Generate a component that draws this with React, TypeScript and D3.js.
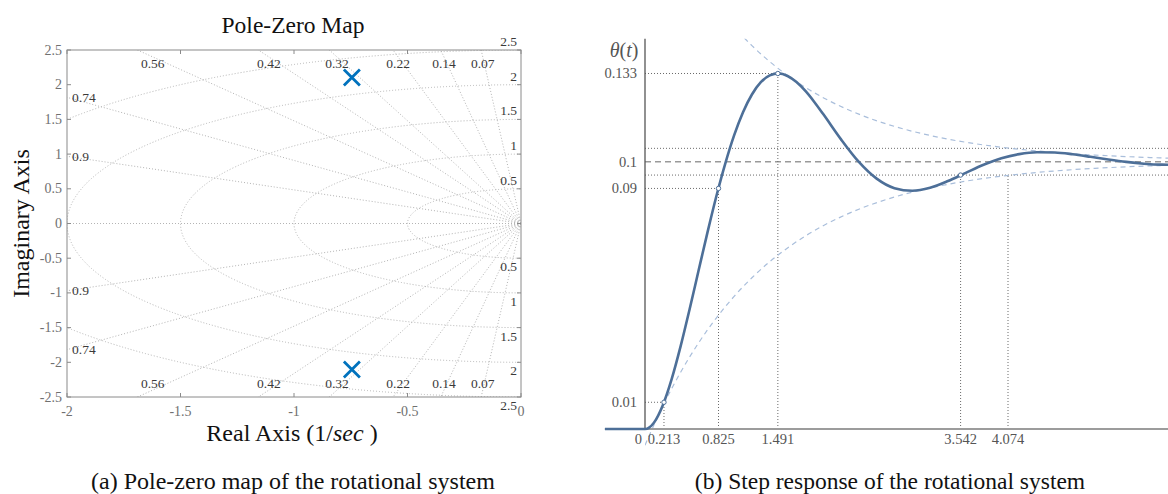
import React from 'react';
import * as d3 from 'd3';

// ---- pole-zero map ----
const realTicks = [-2, -1.5, -1, -0.5, 0];
const imagTicks = [-2.5, -2, -1.5, -1, -0.5, 0, 0.5, 1, 1.5, 2, 2.5];
const dampingRatios = [0.07, 0.14, 0.22, 0.32, 0.42, 0.56, 0.74, 0.9];
const naturalFreqs = [0.5, 1, 1.5, 2, 2.5];
const poleRe = [-0.745, -0.745];
const poleIm = [2.105, -2.105];

// ---- step response ----
const stepTime = [
  -0.45, 0, 0.1, 0.2, 0.3, 0.4, 0.5, 0.6, 0.7, 0.8, 0.9, 1.0, 1.1, 1.2, 1.3, 1.4, 1.5, 1.6, 1.7, 1.8, 1.9, 2.0,
  2.2, 2.4, 2.6, 2.8, 3.0, 3.2, 3.4, 3.6, 3.8, 4.0, 4.2, 4.4, 4.6, 4.8, 5.0, 5.2, 5.4, 5.6, 5.8, 6.0,
];
const stepTheta = [
  0, 0, 0.00237, 0.00892, 0.01876, 0.031, 0.04473, 0.05909, 0.07338, 0.08697, 0.09922, 0.10984, 0.11851,
  0.12514, 0.12973, 0.13228, 0.13304, 0.13207, 0.12979, 0.12646, 0.12236, 0.11781,
  0.10836, 0.09992, 0.09366, 0.0901, 0.08914, 0.09026, 0.09276, 0.09584, 0.09883, 0.10126, 0.10284,
  0.10354, 0.10345, 0.1028, 0.10184, 0.10082, 0.09992, 0.09926, 0.0989, 0.09882,
];
const envTime = [0, 0.2, 0.4, 0.6, 0.8, 1.0, 1.2, 1.4, 1.6, 1.8, 2.0, 2.4, 2.8, 3.2, 3.6, 4.0, 4.4, 4.8, 5.2, 5.6, 6.0];
const envUpper = [
  0.20605, 0.19139, 0.17875, 0.16786, 0.15848, 0.1504, 0.14343, 0.13742, 0.13225, 0.12779, 0.12395,
  0.11778, 0.11321, 0.10981, 0.10728, 0.10541, 0.10402, 0.10298, 0.10222, 0.10164, 0.10122,
];
const envLower = [
  -0.00605, 0.00861, 0.02125, 0.03214, 0.04152, 0.0496, 0.05657, 0.06258, 0.06775, 0.07221, 0.07605,
  0.08222, 0.08679, 0.09019, 0.09272, 0.09459, 0.09598, 0.09702, 0.09778, 0.09836, 0.09878,
];
const markTime = [0.213, 0.825, 1.491, 3.542];
const markTheta = [0.01, 0.09, 0.133, 0.095];
const settleTime = 4.074;
const finalValue = 0.1;
const bandValues = [0.095, 0.105];
const thetaTicks = [0.01, 0.09, 0.1, 0.133];
const timeTicks = [0, 0.213, 0.825, 1.491, 3.542, 4.074];

const serif = "'Liberation Serif', 'Times New Roman', serif";
const gridColor = '#b4b4b4';
const lineBlue = '#4d6f98';

function PoleZero() {
  const px = d3.scaleLinear().domain([-2, 0]).range([67, 521]);
  const py = d3.scaleLinear().domain([-2.5, 2.5]).range([397, 50]);
  const [x0, x1] = px.range();
  const [y0, y1] = [py(2.5), py(-2.5)];
  const tick = 4;

  return (
    <g fontFamily={serif}>
      <defs>
        <clipPath id="pzclip">
          <rect x={x0} y={y0} width={x1 - x0} height={y1 - y0} />
        </clipPath>
      </defs>
      <g clipPath="url(#pzclip)" fill="none" stroke={gridColor} strokeWidth={1} strokeDasharray="1,2">
        {naturalFreqs.map((r) => (
          <ellipse key={r} cx={px(0)} cy={py(0)} rx={px(0) - px(-r)} ry={py(0) - py(r)} />
        ))}
        {dampingRatios.map((z) =>
          [1, -1].map((s) => (
            <line
              key={z + '_' + s}
              x1={px(0)}
              y1={py(0)}
              x2={px(-z * 6)}
              y2={py(s * Math.sqrt(1 - z * z) * 6)}
            />
          ))
        )}
        <line x1={x0} x2={x1} y1={py(0)} y2={py(0)} />
      </g>

      {/* damping labels */}
      <g fontSize={13.5} fill="#3a3a3a">
        {dampingRatios.map((z) => {
          const w = Math.sqrt(1 - z * z);
          const yLeft = (2 * w) / z;
          if (yLeft < 2.4) {
            return [1, -1].map((s) => (
              <text key={z + 'l' + s} x={x0 + 5} y={py(s * yLeft)} dominantBaseline="central">
                {z}
              </text>
            ));
          }
          const xl = px((-2.4 * z) / w);
          return [
            <text key={z + 't'} x={xl} y={py(2.4)} dy={11} textAnchor="middle">{z}</text>,
            <text key={z + 'b'} x={xl} y={py(-2.4)} dy={-2.5} textAnchor="middle">{z}</text>,
          ];
        })}
      </g>

      {/* natural frequency labels */}
      <g fontSize={13.5} fill="#3a3a3a" textAnchor="end">
        {naturalFreqs.map((r) => (
          <React.Fragment key={r}>
            <text x={px(0) - 4} y={py(r) - 4}>{r}</text>
            <text x={px(0) - 4} y={py(-r) + 13}>{r}</text>
          </React.Fragment>
        ))}
      </g>

      {/* box and ticks */}
      <rect x={x0} y={y0} width={x1 - x0} height={y1 - y0} fill="none" stroke="#8a8a8a" strokeWidth={1} />
      <g stroke="#8a8a8a" strokeWidth={1}>
        {realTicks.map((t) => (
          <React.Fragment key={t}>
            <line x1={px(t)} x2={px(t)} y1={y1} y2={y1 - tick} />
            <line x1={px(t)} x2={px(t)} y1={y0} y2={y0 + tick} />
          </React.Fragment>
        ))}
        {imagTicks.map((t) => (
          <React.Fragment key={t}>
            <line x1={x0} x2={x0 + tick} y1={py(t)} y2={py(t)} />
            <line x1={x1} x2={x1 - tick} y1={py(t)} y2={py(t)} />
          </React.Fragment>
        ))}
      </g>
      <g fontSize={14} fill="#707070">
        {realTicks.map((t) => (
          <text key={t} x={px(t)} y={y1 + 19} textAnchor="middle">{t}</text>
        ))}
        {imagTicks.map((t) => (
          <text key={t} x={x0 - 5} y={py(t)} textAnchor="end" dominantBaseline="central">{t}</text>
        ))}
      </g>

      {/* poles */}
      {poleRe.map((re, i) => (
        <path
          key={i}
          transform={`translate(${px(re)},${py(poleIm[i])})`}
          d="M-8,-8L8,8M-8,8L8,-8"
          stroke="#0072bd"
          strokeWidth={2.8}
          fill="none"
        />
      ))}

      <text x={293} y={33} textAnchor="middle" fontSize={23.5} fill="#111">Pole-Zero Map</text>
      <text x={292} y={441} textAnchor="middle" fontSize={24} fill="#111">
        Real Axis (1/<tspan fontStyle="italic">sec</tspan> )
      </text>
      <text transform={`translate(29,${py(0)}) rotate(-90)`} textAnchor="middle" fontSize={24} fill="#111">
        Imaginary Axis
      </text>
    </g>
  );
}

function StepResponse() {
  const tx = d3.scaleLinear().domain([0, settleTime]).range([645, 1008]);
  const ty = d3.scaleLinear().domain([0, finalValue]).range([429, 161.7]);
  const tMin = -0.45;
  const tMax = tx.invert(1168);
  const thetaTop = 0.146;

  const stepPts = stepTime.map((t, i) => [t, stepTheta[i]] as [number, number]);
  const line = d3
    .line<[number, number]>()
    .x((d) => tx(d[0]))
    .y((d) => ty(d[1]))
    .curve(d3.curveMonotoneX);
  const upPts = envTime.map((t, i) => [t, envUpper[i]] as [number, number]);
  const loPts = envTime.map((t, i) => [t, envLower[i]] as [number, number]);

  const dotted = { stroke: '#6a6a6a', strokeWidth: 1, strokeDasharray: '1,2' };

  return (
    <g fontFamily={serif}>
      <defs>
        <clipPath id="srclip">
          <rect x={tx(0)} y={ty(thetaTop)} width={tx(tMax) - tx(0)} height={494 - ty(thetaTop)} />
        </clipPath>
        <clipPath id="srall">
          <rect x={0} y={0} width={tx(tMax)} height={494} />
        </clipPath>
      </defs>

      {/* band lines */}
      {bandValues.map((v) => (
        <line key={v} x1={tx(0)} x2={tx(tMax)} y1={ty(v)} y2={ty(v)} {...dotted} />
      ))}
      <line
        x1={tx(0)}
        x2={tx(tMax)}
        y1={ty(finalValue)}
        y2={ty(finalValue)}
        stroke="#9a9a9a"
        strokeWidth={1.6}
        strokeDasharray="6,4"
      />

      {/* guide lines */}
      {markTime.map((t, i) => (
        <React.Fragment key={t}>
          <line x1={tx(t)} x2={tx(t)} y1={ty(0)} y2={ty(markTheta[i])} {...dotted} />
          {i < 3 && <line x1={tx(0)} x2={tx(t)} y1={ty(markTheta[i])} y2={ty(markTheta[i])} {...dotted} />}
        </React.Fragment>
      ))}
      <line x1={tx(settleTime)} x2={tx(settleTime)} y1={ty(0)} y2={ty(bandValues[0])} {...dotted} />

      {/* envelopes */}
      <g clipPath="url(#srclip)" fill="none" stroke="#a9bedb" strokeWidth={1.2} strokeDasharray="5,4">
        <path d={line(upPts) || ''} />
        <path d={line(loPts) || ''} />
      </g>

      {/* axes */}
      <line x1={tx(tMin)} x2={tx(tMax)} y1={ty(0)} y2={ty(0)} stroke="#9c9c9c" strokeWidth={2} />
      <line x1={tx(0)} x2={tx(0)} y1={ty(0)} y2={ty(thetaTop)} stroke="#555" strokeWidth={1.3} />

      <g clipPath="url(#srall)">
        <path d={line(stepPts) || ''} fill="none" stroke={lineBlue} strokeWidth={2.6} />
      </g>
      {markTime.map((t, i) => (
        <circle key={t} cx={tx(t)} cy={ty(markTheta[i])} r={2.2} fill="#fff" stroke={lineBlue} strokeWidth={1} />
      ))}

      <g fontSize={14.5} fill="#555">
        {thetaTicks.map((v) => (
          <text key={v} x={tx(0) - 8} y={ty(v)} textAnchor="end" dominantBaseline="central">{v}</text>
        ))}
        {timeTicks.map((t) => (
          <text key={t} x={t === 0 ? tx(t) - 3 : tx(t)} y={ty(0) + 15} textAnchor={t === 0 ? 'end' : 'middle'}>
            {t}
          </text>
        ))}
      </g>
      <text x={624} y={57} textAnchor="middle" fontSize={20} fill="#555">
        <tspan fontStyle="italic">θ</tspan>(<tspan fontStyle="italic">t</tspan>)
      </text>
    </g>
  );
}

export default function App() {
  return (
    <svg
      width={1168}
      height={494}
      style={{ position: 'absolute', left: 0, top: 0, background: '#fff' }}
    >
      <PoleZero />
      <StepResponse />
      <text x={293} y={489} textAnchor="middle" fontSize={24} fontFamily={serif} fill="#111">
        (a) Pole-zero map of the rotational system
      </text>
      <text x={890} y={489} textAnchor="middle" fontSize={23.5} fontFamily={serif} fill="#111">
        (b) Step response of the rotational system
      </text>
    </svg>
  );
}
